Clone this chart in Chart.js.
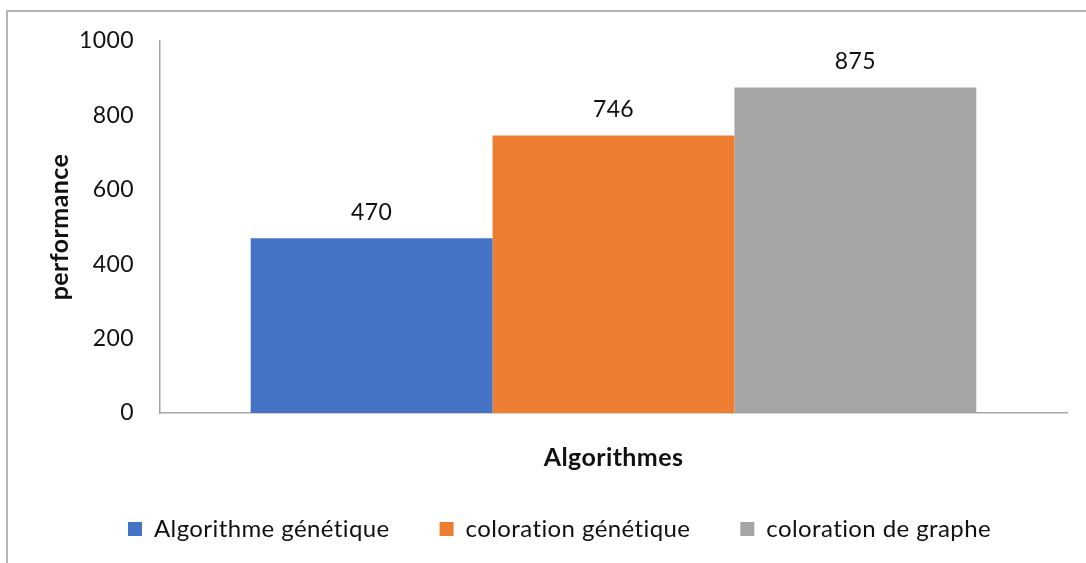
<!DOCTYPE html>
<html>
<head>
<meta charset="utf-8">
<script src="https://cdn.jsdelivr.net/npm/chart.js@4/dist/chart.umd.min.js"></script>
<style>
  html, body { margin: 0; padding: 0; background: #ffffff; }
  #wrap { width: 1086px; height: 563px; position: relative; }
</style>
</head>
<body>
<div id="wrap"><canvas id="c" width="1086" height="563"></canvas></div>
<script>
// Data
const categories = [''];
const seriesNames = ['Algorithme génétique', 'coloration génétique', 'coloration de graphe'];
const seriesValues = [[470], [746], [875]];
const seriesColors = ['#4472C4', '#ED7D31', '#A5A5A5'];
const yTicks = [0, 200, 400, 600, 800, 1000];
const xTitle = 'Algorithmes';
const yTitle = 'performance';

const FONT = 'Lato, "Noto Sans", sans-serif';
const TEXT = '#111111';

// A little letter spacing keeps glyph pairs such as "ti" from joining
const spacing = {
  id: 'spacing',
  beforeLayout(chart) { chart.ctx.letterSpacing = '0.4px'; },
  beforeDraw(chart) { chart.ctx.letterSpacing = '0.4px'; }
};

// Thin frame around the whole chart (left and top edges)
const framePlugin = {
  id: 'frame',
  beforeDraw(chart) {
    const ctx = chart.ctx;
    ctx.save();
    ctx.strokeStyle = '#b4b4b4';
    ctx.lineWidth = 2;
    ctx.beginPath();
    ctx.moveTo(7, chart.height);
    ctx.lineTo(7, 11);
    ctx.lineTo(chart.width, 11);
    ctx.stroke();
    ctx.restore();
  }
};

// Value labels above each bar
const valueLabels = {
  id: 'valueLabels',
  afterDatasetsDraw(chart) {
    const ctx = chart.ctx;
    ctx.save();
    ctx.font = '23px ' + FONT;
    ctx.fillStyle = TEXT;
    ctx.textAlign = 'center';
    ctx.textBaseline = 'middle';
    chart.data.datasets.forEach((ds, i) => {
      const meta = chart.getDatasetMeta(i);
      meta.data.forEach((bar, j) => {
        ctx.fillText(String(ds.data[j]), bar.x, bar.y - 26);
      });
    });
    ctx.restore();
  }
};

new Chart(document.getElementById('c'), {
  type: 'bar',
  data: {
    labels: categories,
    datasets: seriesNames.map((name, i) => ({
      label: name,
      data: seriesValues[i],
      backgroundColor: seriesColors[i],
      borderWidth: 0,
      categoryPercentage: 0.8,
      barPercentage: 1.0
    }))
  },
  options: {
    responsive: false,
    devicePixelRatio: 1,
    animation: false,
    layout: { padding: { left: 52, right: 19, top: 41, bottom: 12 } },
    plugins: {
      tooltip: { enabled: false },
      legend: {
        position: 'bottom',
        align: 'center',
        labels: {
          font: { family: FONT, size: 24 },
          color: TEXT,
          boxWidth: 14,
          boxHeight: 14,
          padding: 50
        }
      }
    },
    scales: {
      x: {
        grid: { display: false, drawTicks: false },
        border: { display: true, color: '#a6a6a6', width: 1.5 },
        ticks: { display: false },
        title: {
          display: true,
          text: xTitle,
          color: TEXT,
          font: { family: FONT, size: 25, weight: 'bold', lineHeight: 1.2 },
          padding: { top: 0, bottom: -6 }
        },
        afterFit(scale) { scale.height = 54; }
      },
      y: {
        min: 0,
        max: 1000,
        afterBuildTicks(scale) { scale.ticks = yTicks.map(v => ({ value: v })); },
        grid: { display: false, drawTicks: false },
        border: { display: true, color: '#a6a6a6', width: 1.5 },
        ticks: {
          color: TEXT,
          font: { family: FONT, size: 23 },
          padding: 26,
          callback: (v) => String(v)
        },
        title: {
          display: true,
          text: yTitle,
          color: TEXT,
          font: { family: FONT, size: 25, weight: 'bold', lineHeight: 1.2 },
          padding: { top: -7, bottom: 0 }
        },
        afterFit(scale) { scale.width = 108; }
      }
    }
  },
  plugins: [spacing, framePlugin, valueLabels]
});
</script>
</body>
</html>
